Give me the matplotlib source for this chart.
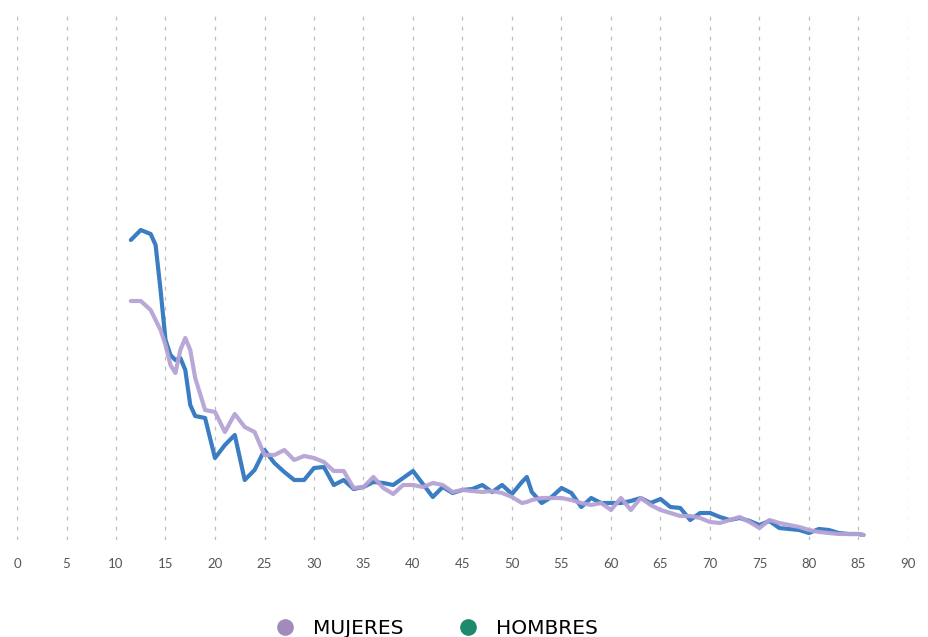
import matplotlib.pyplot as plt
from matplotlib.lines import Line2D

# edades (eje x) y valores
ages = [11.5, 12.5, 13.5, 14, 14.5, 15, 15.5, 16, 16.5, 17, 17.5] + \
    list(range(18, 52)) + [51.5] + list(range(52, 86)) + [85.5]

hombres = [59.2, 61.2, 60.4, 58.2, 49.2, 39.2, 36.2, 35.2, 35.6, 33.2, 26.2,
           24.0, 23.6, 15.6, 18.2, 20.2, 11.2, 13.2, 17.2, 14.6, 12.8,
           11.2, 11.2, 13.6, 13.8, 10.2, 11.2, 9.4, 9.8, 10.8, 10.6,
           10.2, 11.6, 13.0, 10.4, 7.8, 9.8, 8.6, 9.2, 9.4, 10.2,
           8.8, 10.2, 8.4, 10.8,
           11.8,
           8.8, 6.6, 7.8, 9.6, 8.6, 5.8, 7.6, 6.6, 6.6, 6.6,
           7.0, 7.6, 6.6, 7.4, 5.8, 5.6, 3.2, 4.6, 4.6, 3.8,
           3.2, 3.6, 3.0, 2.2, 3.0, 1.6, 1.4, 1.2, 0.6, 1.4,
           1.2, 0.6, 0.4, 0.4,
           0.2]

mujeres = [47.0, 47.0, 45.2, 43.2, 41.2, 38.2, 34.2, 32.6, 37.2, 39.6, 37.2,
           31.6, 25.2, 24.8, 20.8, 24.4, 21.8, 20.8, 16.2, 16.2, 17.2,
           15.2, 16.0, 15.6, 14.8, 13.0, 13.0, 9.6, 9.8, 11.8, 9.6,
           8.4, 10.2, 10.2, 9.8, 10.6, 10.2, 8.8, 9.2, 9.0, 8.8,
           9.0, 8.6, 7.8, 6.6,
           6.8,
           7.2, 7.6, 7.6, 7.6, 7.2, 6.6, 6.2, 6.6, 5.2, 7.6,
           5.2, 7.6, 6.2, 5.2, 4.6, 4.0, 4.0, 3.6, 2.8, 2.6,
           3.2, 3.8, 2.8, 1.6, 3.2, 2.6, 2.2, 1.8, 1.2, 0.8,
           0.6, 0.4, 0.4, 0.4,
           0.2]

xticks = list(range(0, 91, 5))

blue = "#3b7dc2"
purple = "#b6a2d5"

fig = plt.figure(figsize=(9.29, 6.37), dpi=100)
ax = fig.add_axes([17 / 929, 97 / 637, 891 / 929, 530 / 637])

ax.plot(ages, hombres, color=blue, lw=3.0, solid_joinstyle="round",
        solid_capstyle="round", zorder=3)
ax.plot(ages, mujeres, color=purple, lw=3.0, solid_joinstyle="round",
        solid_capstyle="round", alpha=0.95, zorder=4)

ax.set_xlim(0, 90)
ax.set_ylim(-0.8, 105.2)
ax.set_xticks(xticks)
ax.set_yticks([])
ax.grid(axis="x", color="#bdbdbd", linestyle=(0, (3, 5)), lw=0.9)
for s in ax.spines.values():
    s.set_visible(False)
ax.tick_params(axis="x", length=0, pad=13, labelsize=9.5, labelcolor="#555555")
for lab in ax.get_xticklabels():
    lab.set_fontfamily("Lato")

handles = [
    Line2D([], [], marker="o", linestyle="none", markersize=11,
           color="#a28bbb", label="MUJERES"),
    Line2D([], [], marker="o", linestyle="none", markersize=11,
           color="#1e8a6c", label="HOMBRES"),
]
fig.legend(handles=handles, loc="center", bbox_to_anchor=(0.464, 0.013),
           ncol=2, frameon=False, columnspacing=2.2, handletextpad=0.4,
           prop={"family": "DejaVu Sans", "size": 14.5})

fig.savefig("out.png", dpi=100)
